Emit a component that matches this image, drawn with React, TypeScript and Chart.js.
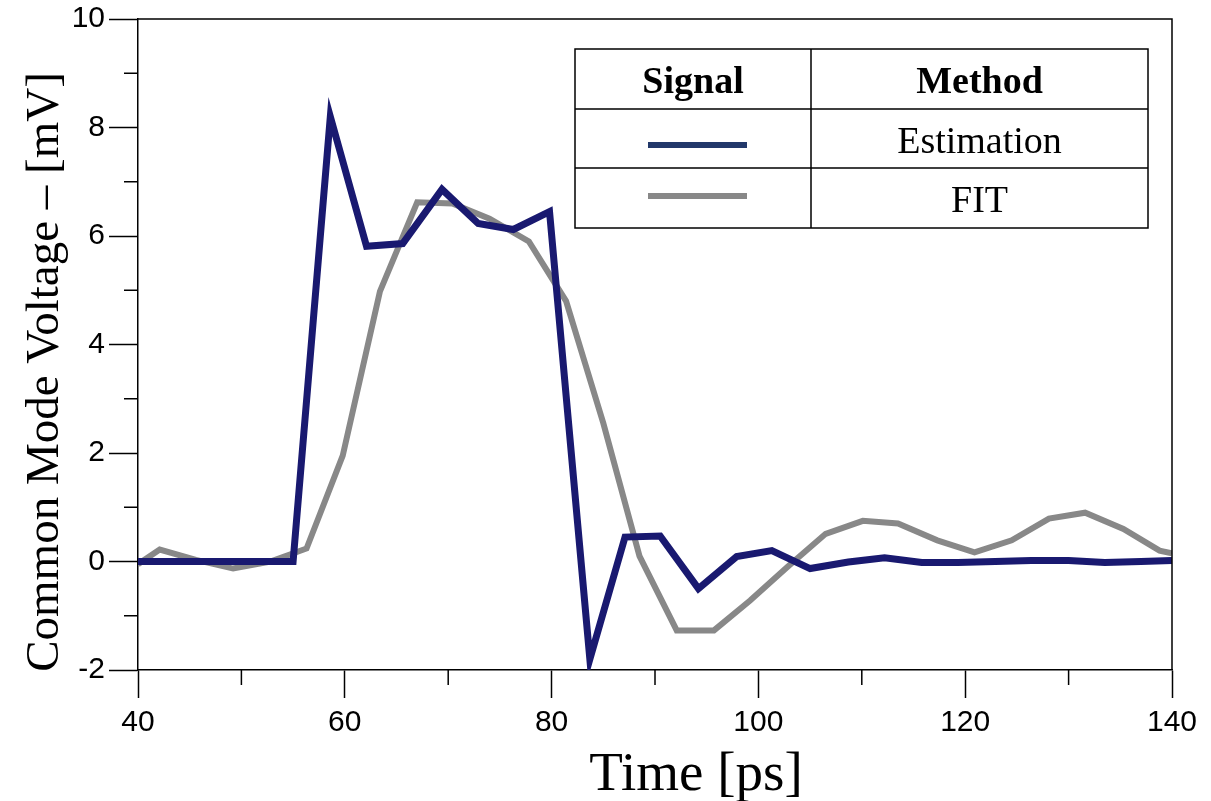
import React, { useEffect, useRef } from "react";
import { Chart, registerables } from "chart.js";

Chart.register(...registerables);

// ---- Data ----
const estTime = [40, 55.0, 58.6, 62.1, 65.6, 69.4, 72.9, 76.3, 79.8, 83.7, 87.1, 90.5, 94.2, 97.9, 101.3, 105.0, 108.7, 112.2, 115.8, 119.3, 122.9, 126.4, 130.0, 133.5, 137.0, 140];
const estValues = [0, 0, 8.2, 5.81, 5.86, 6.86, 6.23, 6.12, 6.45, -1.8, 0.45, 0.47, -0.5, 0.09, 0.2, -0.13, -0.01, 0.07, -0.02, -0.02, 0, 0.02, 0.02, -0.02, 0, 0.02];

const fitTime = [40, 42.1, 45.6, 49.2, 52.8, 56.3, 59.8, 63.4, 67.0, 70.4, 74.0, 77.8, 81.4, 85.0, 88.5, 92.1, 95.7, 99.2, 102.8, 106.5, 110.1, 113.5, 117.3, 120.9, 124.5, 128.1, 131.6, 135.3, 138.8, 140];
const fitValues = [-0.05, 0.22, 0.03, -0.13, 0.0, 0.24, 1.95, 4.98, 6.62, 6.6, 6.32, 5.9, 4.8, 2.55, 0.1, -1.27, -1.27, -0.72, -0.1, 0.51, 0.75, 0.7, 0.39, 0.17, 0.39, 0.79, 0.9, 0.6, 0.2, 0.15];

const seriesNames = ["Estimation", "FIT"];
const legendHeaders = ["Signal", "Method"];
const xTitle = "Time [ps]";
const yTitle = "Common Mode Voltage \u2013 [mV]";
const xMinorTicks = [50, 70, 90, 110, 130];
const yMinorTicks = [-1, 1, 3, 5, 7, 9];

const EST_COLOR = "#191970";
const FIT_COLOR = "#888888";
const EST_LEGEND_COLOR = "#22386a";

const decorPlugin = {
  id: "decor",
  afterDraw(chart: any) {
    const { ctx, chartArea } = chart;
    const xs = chart.scales.x;
    const ys = chart.scales.y;
    ctx.save();
    ctx.strokeStyle = "#000";
    ctx.lineWidth = 1.5;
    // top and right frame
    ctx.beginPath();
    ctx.moveTo(chartArea.left, chartArea.top);
    ctx.lineTo(chartArea.right, chartArea.top);
    ctx.lineTo(chartArea.right, chartArea.bottom);
    ctx.stroke();
    // minor ticks
    ctx.beginPath();
    for (const v of yMinorTicks) {
      const y = ys.getPixelForValue(v);
      ctx.moveTo(chartArea.left - 14, y);
      ctx.lineTo(chartArea.left, y);
    }
    for (const v of xMinorTicks) {
      const x = xs.getPixelForValue(v);
      ctx.moveTo(x, chartArea.bottom);
      ctx.lineTo(x, chartArea.bottom + 15);
    }
    ctx.stroke();

    // axis titles
    ctx.fillStyle = "#000";
    ctx.font = "55px 'Liberation Serif', 'Times New Roman', serif";
    ctx.textAlign = "center";
    ctx.textBaseline = "alphabetic";
    ctx.fillText(xTitle, 696, 790);
    ctx.save();
    ctx.translate(58, 372);
    ctx.rotate(-Math.PI / 2);
    ctx.font = "47px 'Liberation Serif', 'Times New Roman', serif";
    ctx.fillText(yTitle, 0, 0);
    ctx.restore();

    // legend table
    const L = 575, R = 1148, T = 49, B = 228, C = 811;
    const r1 = 109, r2 = 168;
    ctx.fillStyle = "#fff";
    ctx.fillRect(L, T, R - L, B - T);
    ctx.strokeStyle = "#000";
    ctx.lineWidth = 1.5;
    ctx.strokeRect(L, T, R - L, B - T);
    ctx.beginPath();
    ctx.moveTo(L, r1); ctx.lineTo(R, r1);
    ctx.moveTo(L, r2); ctx.lineTo(R, r2);
    ctx.moveTo(C, T); ctx.lineTo(C, B);
    ctx.stroke();
    const c2 = (C + R) / 2;
    ctx.fillStyle = "#000";
    ctx.font = "bold 38px 'Liberation Serif', 'Times New Roman', serif";
    ctx.fillText(legendHeaders[0], 693, 93);
    ctx.fillText(legendHeaders[1], c2, 93);
    ctx.font = "38px 'Liberation Serif', 'Times New Roman', serif";
    ctx.fillText(seriesNames[0], c2, 153);
    ctx.fillText(seriesNames[1], c2, 212);
    ctx.lineWidth = 6;
    ctx.lineCap = "butt";
    ctx.strokeStyle = EST_LEGEND_COLOR;
    ctx.beginPath();
    ctx.moveTo(648, 145); ctx.lineTo(747, 145);
    ctx.stroke();
    ctx.strokeStyle = FIT_COLOR;
    ctx.beginPath();
    ctx.moveTo(648, 196); ctx.lineTo(747, 196);
    ctx.stroke();
    ctx.restore();
  },
};

export default function App() {
  const canvasRef = useRef<HTMLCanvasElement | null>(null);

  useEffect(() => {
    if (!canvasRef.current) return;
    const tickFont = { family: "'Liberation Sans', Arial, sans-serif", size: 30, lineHeight: 1 };
    const chart = new Chart(canvasRef.current, {
      type: "line",
      data: {
        datasets: [
          {
            label: seriesNames[0],
            data: estTime.map((t, i) => ({ x: t, y: estValues[i] })),
            borderColor: EST_COLOR,
            borderWidth: 7,
            pointRadius: 0,
            tension: 0,
            borderJoinStyle: "miter",
            borderCapStyle: "butt",
          },
          {
            label: seriesNames[1],
            data: fitTime.map((t, i) => ({ x: t, y: fitValues[i] })),
            borderColor: FIT_COLOR,
            borderWidth: 6,
            pointRadius: 0,
            tension: 0,
            borderJoinStyle: "miter",
            borderCapStyle: "butt",
          },
        ],
      },
      options: {
        animation: false,
        responsive: false,
        maintainAspectRatio: false,
        layout: { padding: { top: 15.5, right: 39, bottom: 0, left: 0 } },
        plugins: { legend: { display: false }, tooltip: { enabled: false } },
        scales: {
          x: {
            type: "linear",
            min: 40,
            max: 140,
            ticks: { stepSize: 20, color: "#000", font: tickFont, padding: 10, maxRotation: 0 },
            grid: { drawOnChartArea: false, drawTicks: true, tickLength: 28, tickColor: "#000", tickWidth: 1.5 },
            border: { display: true, color: "#000", width: 1.5 },
            title: { display: false },
            afterFit: (s: any) => { s.height = 131; },
          },
          y: {
            type: "linear",
            min: -2,
            max: 10,
            ticks: { stepSize: 2, color: "#000", font: tickFont, padding: 4 },
            grid: { drawOnChartArea: false, drawTicks: true, tickLength: 29, tickColor: "#000", tickWidth: 1.5 },
            border: { display: true, color: "#000", width: 1.5 },
            title: { display: false },
            afterFit: (s: any) => { s.width = 138; },
          },
        },
      },
      plugins: [decorPlugin],
    } as any);
    return () => chart.destroy();
  }, []);

  return (
    <div style={{ position: "absolute", left: 0, top: 0, width: 1211, height: 801, background: "#fff" }}>
      <canvas ref={canvasRef} width={1211} height={801} style={{ width: 1211, height: 801, display: "block" }} />
    </div>
  );
}
